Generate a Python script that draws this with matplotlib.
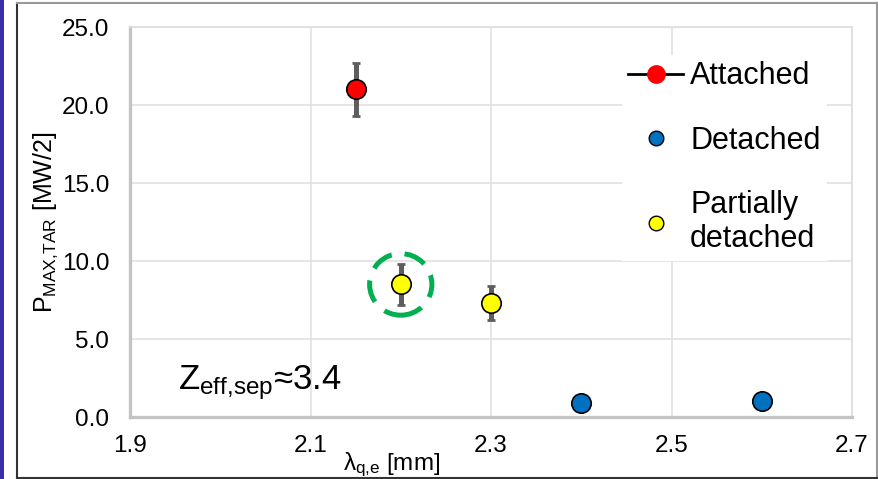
import matplotlib
matplotlib.use('Agg')
import matplotlib.pyplot as plt
from matplotlib.lines import Line2D
from matplotlib.patches import Ellipse, Rectangle

plt.rcParams['font.family'] = ['Liberation Sans', 'DejaVu Sans']
plt.rcParams['mathtext.fontset'] = 'custom'
plt.rcParams['mathtext.rm'] = 'Liberation Sans'
plt.rcParams['mathtext.it'] = 'Liberation Sans'

# dados
attached_x = [2.15]
attached_y = [21.0]
attached_err = [1.7]

partial_x = [2.2, 2.3]
partial_y = [8.5, 7.3]
partial_err = [1.3, 1.1]

detached_x = [2.4, 2.6]
detached_y = [0.9, 1.0]

x_ticks = [1.9, 2.1, 2.3, 2.5, 2.7]
y_ticks = [0, 5, 10, 15, 20, 25]

fig = plt.figure(figsize=(8.79, 4.79), dpi=100)
ax = fig.add_axes([130 / 879, 1 - 417 / 479, 722 / 879, 390 / 479])

err_kw = dict(fmt='none', ecolor='#5e5e5e', elinewidth=3.6, capsize=3, capthick=2, zorder=3)
ax.errorbar(attached_x, attached_y, yerr=attached_err, **err_kw)
ax.errorbar(partial_x, partial_y, yerr=partial_err, **err_kw)

mk = dict(linestyle='none', marker='o', markersize=14, markeredgecolor='black',
          markeredgewidth=1.2, zorder=4)
ax.plot(attached_x, attached_y, markerfacecolor='#ff0000', **mk)
ax.plot(partial_x, partial_y, markerfacecolor='#ffff00', **mk)
ax.plot(detached_x, detached_y, markerfacecolor='#0070c0', **mk)

# círculo tracejado verde destacando o primeiro ponto parcialmente destacado
ax.add_patch(Ellipse((partial_x[0], partial_y[0]), width=0.069, height=3.95,
                     fill=False, edgecolor='#00b050', linewidth=3.6,
                     linestyle=(0, (4.5, 2.6)), zorder=5))

ax.set_xlim(1.9, 2.7)
ax.set_ylim(0, 25)
ax.set_xticks(x_ticks)
ax.set_yticks(y_ticks)
ax.set_xticklabels([f'{v:.1f}' for v in x_ticks])
ax.set_yticklabels([f'{v:.1f}' for v in y_ticks])
ax.tick_params(length=0, labelsize=17.5, colors='black')
ax.tick_params(axis='x', pad=13)
ax.tick_params(axis='y', pad=15)
ax.grid(True, color='#e2e2e2', linewidth=1.2)
ax.set_axisbelow(True)
for s in ['top', 'right']:
    ax.spines[s].set_color('#dddddd')
    ax.spines[s].set_linewidth(1.2)
for s in ['left', 'bottom']:
    ax.spines[s].set_color('#c4c4c4')
    ax.spines[s].set_linewidth(2.4)

ax.set_ylabel(r'$P_{\mathrm{MAX{,}TAR}}$ [MW/2]', fontsize=18)
ax.yaxis.set_label_coords(-0.097, 0.5)
ax.set_xlabel(r'$\lambda_{\mathrm{q{,}e}}$ [mm]', fontsize=17.5)
ax.xaxis.set_label_coords(0.362, -0.085)

ax.text(0.066, 0.072, r'$Z_{\mathrm{eff{,}sep}}$≈3.4', transform=ax.transAxes,
        fontsize=25, va='baseline', ha='left')

handles = [
    Line2D([], [], color='black', linewidth=2, marker='o', markersize=12.5,
           markerfacecolor='#ff0000', markeredgecolor='#ff0000'),
    Line2D([], [], linestyle='none', marker='o', markersize=10.5,
           markerfacecolor='#0070c0', markeredgecolor='black', markeredgewidth=1),
    Line2D([], [], linestyle='none', marker='o', markersize=10.5,
           markerfacecolor='#ffff00', markeredgecolor='black', markeredgewidth=1),
]
labels = ['Attached', 'Detached', 'Partially\ndetached']
leg = ax.legend(handles, labels, loc='upper left', fontsize=22,
                bbox_to_anchor=(607 / 879, 1 - 40 / 479), bbox_transform=fig.transFigure,
                frameon=True, facecolor='white', edgecolor='none', framealpha=1,
                handlelength=1.8, handletextpad=0.22, labelspacing=1.12,
                borderpad=0.2, fancybox=False)

# moldura do slide
fig.patches.append(Rectangle((0, 0), 4 / 879, 1, transform=fig.transFigure,
                             facecolor='#3b2fa3', edgecolor='none'))
fig.lines.append(Line2D([17 / 879, 17 / 879], [0, 1 - 3 / 479], transform=fig.transFigure,
                        color='#333333', linewidth=1.5))
fig.lines.append(Line2D([17 / 879, 1], [1 - 3 / 479, 1 - 3 / 479], transform=fig.transFigure,
                        color='#999999', linewidth=1.5))
fig.lines.append(Line2D([877 / 879, 877 / 879], [0, 1 - 3 / 479], transform=fig.transFigure,
                        color='#999999', linewidth=1.5))
fig.lines.append(Line2D([17 / 879, 1], [1.5 / 479, 1.5 / 479], transform=fig.transFigure,
                        color='#333333', linewidth=1.5))

fig.savefig('out.png', dpi=100)
